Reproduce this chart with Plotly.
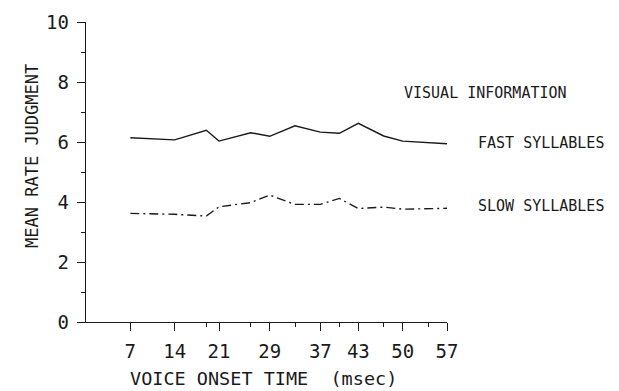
import plotly.graph_objects as go

# Data
vot_ms = [7, 14, 19, 21, 26, 29, 33, 37, 40, 43, 47, 50, 57]
fast_syllables = [6.14, 6.07, 6.39, 6.03, 6.31, 6.19, 6.54, 6.33, 6.29, 6.62, 6.20, 6.03, 5.94]
slow_syllables = [3.62, 3.59, 3.53, 3.84, 3.98, 4.23, 3.92, 3.92, 4.12, 3.78, 3.83, 3.76, 3.79]

x_tick_vals = [7, 14, 21, 29, 37, 43, 50, 57]
x_minor_vals = [19, 26, 33, 40, 47, 54]
y_tick_vals = [0, 2, 4, 6, 8, 10]
y_minor_vals = [1, 3, 5, 7, 9]

FONT = "DejaVu Sans Mono"
INK = "#1a1a1a"

fig = go.Figure()
fig.add_trace(go.Scatter(x=vot_ms, y=fast_syllables, mode="lines",
                         line=dict(color=INK, width=1.4), hoverinfo="skip"))
fig.add_trace(go.Scatter(x=vot_ms, y=slow_syllables, mode="lines",
                         line=dict(color=INK, width=1.4, dash="9px,4px,2px,4px"),
                         hoverinfo="skip"))

fig.update_layout(
    width=619, height=391,
    margin=dict(l=86, r=172, t=22, b=69),
    paper_bgcolor="white", plot_bgcolor="white",
    showlegend=False,
    font=dict(family=FONT, color=INK),
    xaxis=dict(range=[0, 57], showgrid=False, zeroline=False,
               showline=True, linecolor=INK, linewidth=1.4,
               tickmode="array", tickvals=x_tick_vals,
               ticktext=[str(v) for v in x_tick_vals],
               ticks="outside", ticklen=8, tickwidth=1.4, tickcolor=INK,
               ticklabelstandoff=4,
               tickfont=dict(family=FONT, size=19, color=INK),
               minor=dict(tickmode="array", tickvals=x_minor_vals,
                          ticks="outside", ticklen=4, tickwidth=1.2,
                          tickcolor=INK, showgrid=False)),
    yaxis=dict(range=[0, 10], showgrid=False, zeroline=False,
               showline=True, linecolor=INK, linewidth=1.4,
               tickmode="array", tickvals=y_tick_vals,
               ticktext=[str(v) for v in y_tick_vals],
               ticks="outside", ticklen=8, tickwidth=1.4, tickcolor=INK,
               ticklabelstandoff=4,
               tickfont=dict(family=FONT, size=19, color=INK),
               minor=dict(tickmode="array", tickvals=y_minor_vals,
                          ticks="outside", ticklen=4, tickwidth=1.2,
                          tickcolor=INK, showgrid=False)),
)

ann_font = dict(family=FONT, size=15, color=INK)
fig.add_annotation(text="VISUAL INFORMATION", xref="paper", yref="paper",
                   x=0.876, y=0.763, xanchor="left", yanchor="middle",
                   showarrow=False, font=ann_font)
fig.add_annotation(text="FAST SYLLABLES", xref="paper", yref="paper",
                   x=1.080, y=0.597, xanchor="left", yanchor="middle",
                   showarrow=False, font=ann_font)
fig.add_annotation(text="SLOW SYLLABLES", xref="paper", yref="paper",
                   x=1.080, y=0.387, xanchor="left", yanchor="middle",
                   showarrow=False, font=ann_font)
fig.add_annotation(text="VOICE ONSET TIME \u00a0(msec)", xref="paper", yref="paper",
                   x=0.492, y=-0.228, xanchor="center", yanchor="bottom",
                   showarrow=False, borderpad=0,
                   font=dict(family=FONT, size=18.5, color=INK))
fig.add_annotation(text="MEAN RATE JUDGMENT", xref="paper", yref="paper",
                   x=-0.148, y=0.552, xanchor="center", yanchor="middle",
                   textangle=-90, showarrow=False,
                   font=dict(family=FONT, size=17, color=INK))

fig.write_html("out.html")
